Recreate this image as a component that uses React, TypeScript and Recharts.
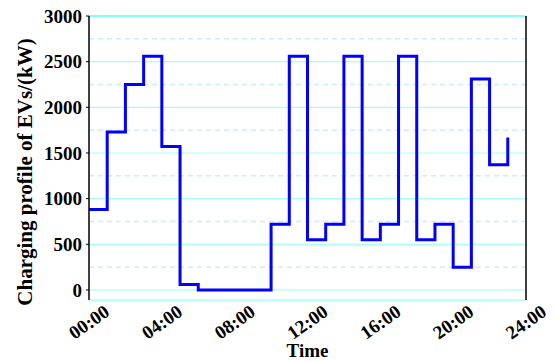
import React from "react";
import {
  Label,
  Line,
  LineChart,
  ReferenceLine,
  XAxis,
  YAxis,
} from "recharts";

const hours = [
  0, 1, 2, 3, 4, 5, 6, 7, 8, 9, 10, 11, 12, 13, 14, 15, 16, 17, 18, 19, 20, 21,
  22, 23,
];
const load = [
  880, 1730, 2250, 2560, 1570, 60, 0, 0, 0, 0, 720, 2560, 550, 720, 2560, 550,
  720, 2560, 550, 720, 250, 2310, 1370, 1670,
];
const xTicks = [0, 4, 8, 12, 16, 20, 24];
const yTicks = [0, 500, 1000, 1500, 2000, 2500, 3000];
const minorTicks = [250, 750, 1250, 1750, 2250, 2750];

const data = hours.map((h, i) => ({ hour: h, load: load[i] }));

const font = "'Liberation Serif', 'Times New Roman', serif";

const fmtHour = (v: number) => String(v).padStart(2, "0") + ":00";

// rotated time labels, centred under the tick
const XTick = (props: any) => {
  const { x, payload } = props;
  const cy = 322;
  return (
    <text
      x={x}
      y={cy}
      textAnchor="middle"
      dominantBaseline="central"
      transform={`rotate(-35, ${x}, ${cy})`}
      fontFamily={font}
      fontWeight="bold"
      fontSize={19}
      fill="#000"
    >
      {fmtHour(payload.value)}
    </text>
  );
};

const YLabel = () => {
  const cx = 25;
  const cy = 172;
  return (
    <text
      x={cx}
      y={cy}
      textAnchor="middle"
      dominantBaseline="central"
      transform={`rotate(-90, ${cx}, ${cy})`}
      fontFamily={font}
      fontWeight="bold"
      fontSize={21}
      fill="#000"
    >
      Charging profile of EVs/(kW)
    </text>
  );
};

const XLabel = (props: any) => {
  const { viewBox } = props;
  return (
    <text
      x={viewBox.x + viewBox.width / 2}
      y={350}
      textAnchor="middle"
      dominantBaseline="central"
      fontFamily={font}
      fontWeight="bold"
      fontSize={19}
      fill="#000"
    >
      Time
    </text>
  );
};

export default function App() {
  return (
    <div style={{ position: "absolute", left: 0, top: 0 }}>
      <LineChart
        width={555}
        height={362}
        data={data}
        margin={{ top: 16, right: 0, bottom: 0, left: 0 }}
      >
        {minorTicks.map((v) => (
          <ReferenceLine
            key={"m" + v}
            y={v}
            yAxisId="left"
            stroke="#cfeaff"
            strokeWidth={1.5}
            strokeDasharray="5 4"
          />
        ))}
        {yTicks.map((v) => (
          <ReferenceLine
            key={"j" + v}
            y={v}
            yAxisId="left"
            stroke="#a8ffff"
            strokeWidth={1.2}
          />
        ))}
        <XAxis
          dataKey="hour"
          type="number"
          domain={[0, 24]}
          ticks={xTicks}
          height={62}
          axisLine={false}
          tickLine={false}
          tick={<XTick />}
          interval={0}
        >
          <Label content={<XLabel />} />
        </XAxis>
        <XAxis
          xAxisId="bline"
          dataKey="hour"
          type="number"
          domain={[0, 24]}
          ticks={xTicks}
          orientation="bottom"
          mirror
          tick={false}
          tickSize={4}
          axisLine={{ stroke: "#a0ffff", strokeWidth: 1.5 }}
          tickLine={{ stroke: "#a0ffff" }}
        />
        <XAxis
          xAxisId="top"
          dataKey="hour"
          type="number"
          domain={[0, 24]}
          ticks={xTicks}
          orientation="top"
          mirror
          tick={false}
          tickSize={4}
          axisLine={{ stroke: "#80ffff", strokeWidth: 2 }}
          tickLine={{ stroke: "#a0ffff" }}
        />
        <YAxis
          yAxisId="left"
          type="number"
          domain={[-110, 3000]}
          ticks={yTicks}
          width={89}
          interval={0}
          tickSize={3}
          tickMargin={4}
          axisLine={{ stroke: "#000", strokeWidth: 1.5 }}
          tickLine={{ stroke: "#000" }}
          tick={{
            fontFamily: font,
            fontWeight: "bold",
            fontSize: 19,
            fill: "#000",
          }}
        >
          <Label content={<YLabel />} />
        </YAxis>
        <YAxis
          yAxisId="right"
          orientation="right"
          type="number"
          domain={[-110, 3000]}
          ticks={yTicks}
          width={29}
          interval={0}
          tickSize={5}
          tick={false}
          axisLine={{ stroke: "#000", strokeWidth: 1.5 }}
          tickLine={{ stroke: "#000" }}
        />
        <Line
          yAxisId="left"
          dataKey="load"
          type="stepAfter"
          stroke="#0000ff"
          strokeWidth={3}
          dot={false}
          isAnimationActive={false}
        />
      </LineChart>
    </div>
  );
}
